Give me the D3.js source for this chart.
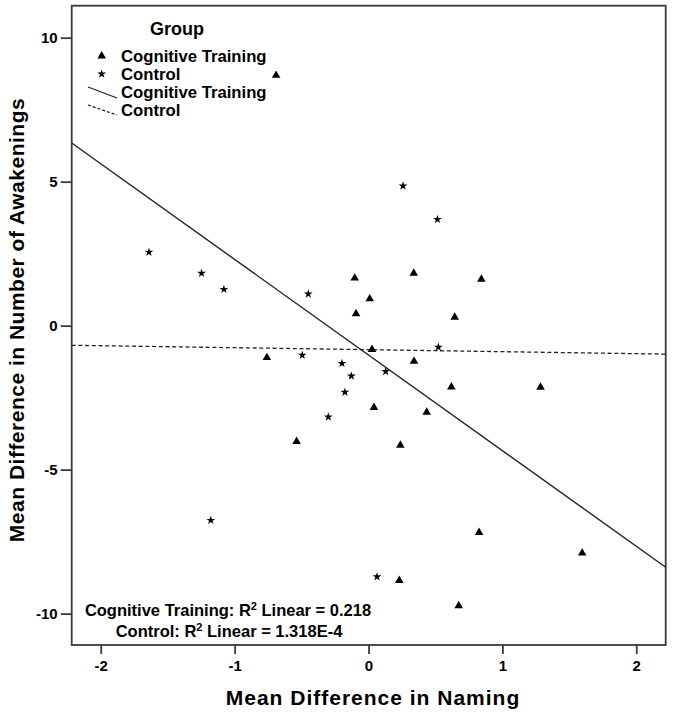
<!DOCTYPE html>
<html>
<head>
<meta charset="utf-8">
<script src="https://cdn.jsdelivr.net/npm/d3@7/dist/d3.min.js"></script>
<style>
  html, body { margin: 0; padding: 0; background: #fff; }
  svg { display: block; }
  text { font-family: "Liberation Sans", Arial, sans-serif; font-weight: bold; fill: #000; }
</style>
</head>
<body>
<svg id="chart" width="673" height="715"></svg>
<script>
// ---- Data ----
const trainingX = [-0.69, -0.103, 0.338, 0.843, 0.009, -0.093, 0.644, 0.026, -0.759, 0.340,
                   0.619, 1.285, 0.041, 0.435, -0.537, 0.238, 0.826, 1.596, 0.230, 0.674];
const trainingY = [8.69, 1.65, 1.82, 1.61, 0.93, 0.41, 0.29, -0.83, -1.11, -1.24,
                   -2.13, -2.14, -2.84, -3.01, -4.02, -4.15, -7.18, -7.90, -8.85, -9.73];
const controlX = [0.258, 0.515, -0.45, 0.522, -0.495, -0.198, -0.128, 0.128, -0.176, -0.30,
                  -1.64, -1.247, -1.08, -1.178, 0.064];
const controlY = [4.85, 3.69, 1.10, -0.75, -1.03, -1.31, -1.75, -1.59, -2.31, -3.17,
                  2.55, 1.82, 1.26, -6.76, -8.72];
// fit lines: [intercept, slope]
const trainingFit = [-1.02, -3.32];
const controlFit = [-0.835, -0.069];
const xTicks = [-2, -1, 0, 1, 2];
const yTicks = [-10, -5, 0, 5, 10];
const xDomain = [-2.217, 2.22];
const yDomain = [-11.09, 11.11];
const legendLabels = ["Cognitive Training", "Control", "Cognitive Training", "Control"];
const fitLabels = ["Cognitive Training: R", "Control: R"];
const fitValues = ["0.218", "1.318E-4"];

// ---- Layout ----
const svg = d3.select("#chart");
const L = 71.7, R = 665.7, T = 5.7, B = 645;
const x = d3.scaleLinear().domain(xDomain).range([L, R]);
const y = d3.scaleLinear().domain(yDomain).range([B, T]);

// frame
svg.append("rect").attr("x", L).attr("y", T).attr("width", R - L).attr("height", B - T)
  .attr("fill", "none").attr("stroke", "#3a3a3a").attr("stroke-width", 1.8);

// axes
const fmt = d => String(d);
const xAxis = svg.append("g").attr("transform", `translate(0,${B})`)
  .call(d3.axisBottom(x).tickValues(xTicks).tickFormat(fmt).tickSize(9).tickPadding(6));
const yAxis = svg.append("g").attr("transform", `translate(${L},0)`)
  .call(d3.axisLeft(y).tickValues(yTicks).tickFormat(fmt).tickSize(11).tickPadding(3));
[xAxis, yAxis].forEach(a => {
  a.select(".domain").remove();
  a.selectAll(".tick line").attr("stroke", "#3a3a3a").attr("stroke-width", 1.8);
  a.selectAll(".tick text").attr("font-size", 15).attr("font-family", "Liberation Sans, Arial, sans-serif")
    .attr("font-weight", "bold").attr("fill", "#000");
});

// axis titles
svg.append("text").attr("x", 373).attr("y", 705).attr("text-anchor", "middle")
  .attr("font-size", 21).attr("letter-spacing", 1).text("Mean Difference in Naming");
svg.append("text").attr("transform", `translate(24,${320}) rotate(-90)`).attr("text-anchor", "middle")
  .attr("font-size", 21).attr("letter-spacing", 0.5).text("Mean Difference in Number of Awakenings");

// fit lines
const plot = svg.append("g");
const fitLine = (f) => [[xDomain[0], f[0] + f[1] * xDomain[0]], [xDomain[1], f[0] + f[1] * xDomain[1]]];
const line = d3.line().x(d => x(d[0])).y(d => y(d[1]));
plot.append("path").attr("d", line(fitLine(trainingFit))).attr("stroke", "#222")
  .attr("stroke-width", 1.4).attr("fill", "none");
plot.append("path").attr("d", line(fitLine(controlFit))).attr("stroke", "#222")
  .attr("stroke-width", 1.3).attr("stroke-dasharray", "4,2.7").attr("fill", "none");

// markers
const tri = d3.symbol().type(d3.symbolTriangle).size(32);
const star = d3.symbol().type(d3.symbolStar).size(24);
plot.selectAll(".tri").data(d3.zip(trainingX, trainingY)).join("path")
  .attr("class", "tri").attr("d", tri)
  .attr("transform", d => `translate(${x(d[0])},${y(d[1])})`).attr("fill", "#000");
plot.selectAll(".star").data(d3.zip(controlX, controlY)).join("path")
  .attr("class", "star").attr("d", star)
  .attr("transform", d => `translate(${x(d[0])},${y(d[1])})`).attr("fill", "#000");

// legend
const lg = svg.append("g");
lg.append("text").attr("x", 177).attr("y", 35).attr("text-anchor", "middle").attr("font-size", 18).text("Group");
const rowY = [56, 74, 92, 110];
legendLabels.forEach((t, i) => {
  lg.append("text").attr("x", 121).attr("y", rowY[i] + 6).attr("font-size", 16.7).text(t);
});
lg.append("path").attr("d", tri).attr("transform", `translate(101.7,${rowY[0]})`).attr("fill", "#000");
lg.append("path").attr("d", star).attr("transform", `translate(101.7,${rowY[1]})`).attr("fill", "#000");
lg.append("line").attr("x1", 88).attr("y1", rowY[2] - 5).attr("x2", 117).attr("y2", rowY[2] + 6)
  .attr("stroke", "#222").attr("stroke-width", 1.3);
lg.append("line").attr("x1", 88).attr("y1", rowY[3] - 5).attr("x2", 117).attr("y2", rowY[3] + 5)
  .attr("stroke", "#222").attr("stroke-width", 1.3).attr("stroke-dasharray", "3,2");

// R² annotations
const ann = [[228, 616], [229, 637]];
fitLabels.forEach((lab, i) => {
  const t = svg.append("text").attr("x", ann[i][0]).attr("y", ann[i][1]).attr("text-anchor", "middle")
    .attr("font-size", 16.5);
  t.append("tspan").text(lab);
  t.append("tspan").attr("font-size", 11).attr("dy", -6).text("2");
  t.append("tspan").attr("dy", 6).text(" Linear = " + fitValues[i]);
});
</script>
</body>
</html>
